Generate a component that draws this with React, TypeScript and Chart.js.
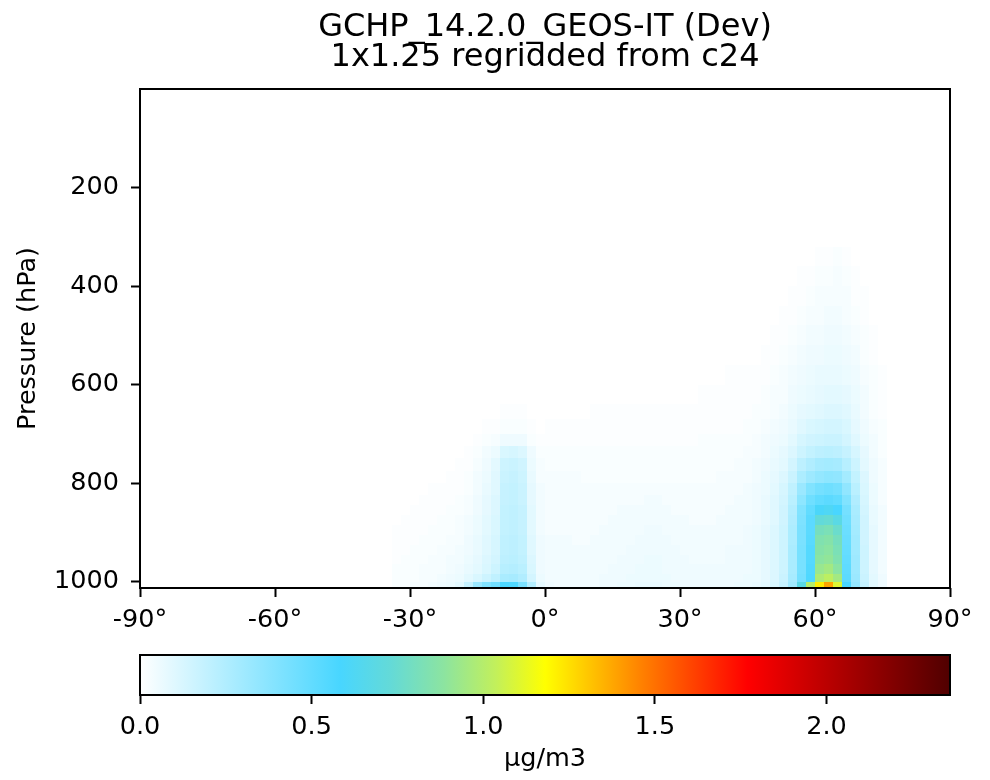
import React, { useEffect, useRef } from "react";
import { Chart, registerables } from "chart.js";

Chart.register(...registerables);

const FONT = "'DejaVu Sans', sans-serif";

const TITLE_LINES = ["GCHP_14.2.0_GEOS-IT (Dev)", "1x1.25 regridded from c24"];
const Y_LABEL = "Pressure (hPa)";
const CB_LABEL = "µg/m3";

const LAT_TICKS = [-90, -60, -30, 0, 30, 60, 90];
const P_TICKS = [200, 400, 600, 800, 1000];
const CB_TICKS = [0, 0.5, 1.0, 1.5, 2.0];
const VMAX = 2.36;
const P_MIN = 0;
const P_MAX = 1013;

// latitude cell edges (degrees), 2° cells
const LAT_EDGES = [
  -34, -32, -30, -28, -26, -24, -22, -20, -18, -16, -14, -12, -10, -8, -6, -4, -2,
  0, 2, 4, 6, 8, 10, 12, 14, 16, 18, 20, 22, 24, 26, 28, 30, 32, 34, 36, 38, 40, 42, 44,
  46, 48, 50, 52, 54, 56, 58, 60, 62, 64, 66, 68, 70, 72, 74, 76,
];

// pressure level edges (hPa), from surface upward
const P_EDGES = [
  1013, 1000, 985, 965, 945, 925, 905, 885, 865, 845, 825, 800, 775, 750, 725, 700,
  670, 640, 600, 560, 520, 480, 440, 400, 360, 320,
];

// concentration (hundredths of µg/m3); one row per pressure layer (surface first),
// one column per latitude cell
const CONC = [
  [2,2,3,3,4,5,6,9,18, 32,40,45,57,56,42,24,8, 5,4,4,4,4,4,5,5,6,6,7,7,7,6,6,5,5,5,5,5,5,6,6, 7,9,12,18,30,68,100,122,138,110,58,34,18,9,5],
  [2,2,2,3,3,4,5,6,9, 12,16,20,27,28,25,14,6, 4,4,4,4,4,4,5,5,5,6,6,6,6,6,5,5,5,5,5,5,5,5,6, 6,8,11,17,28,44,56,98,102,95,52,32,17,9,5],
  [2,2,2,3,3,3,4,5,7, 9,12,16,23,24,22,12,5, 4,4,4,4,4,4,4,5,5,5,6,6,6,5,5,5,5,5,5,5,5,5,5, 6,8,11,16,27,43,55,92,95,88,51,31,16,8,4],
  [1,2,2,2,3,3,4,4,6, 8,11,14,21,22,20,11,5, 4,4,4,4,4,4,4,4,5,5,5,6,6,5,5,5,4,4,4,4,5,5,5, 6,8,11,16,27,43,54,88,90,84,50,31,16,8,4],
  [1,1,2,2,2,3,3,4,5, 7,10,13,20,21,19,10,5, 4,4,4,4,4,4,4,4,4,5,5,5,5,5,5,4,4,4,4,4,5,5,5, 6,8,11,16,27,43,54,86,88,82,49,30,16,8,4],
  [1,1,1,2,2,2,3,3,5, 7,10,13,20,21,19,10,5, 4,4,4,3,3,4,4,4,4,4,5,5,5,5,4,4,4,4,4,4,4,4,5, 6,8,11,16,26,42,53,84,86,80,48,30,15,8,4],
  [1,1,1,1,2,2,2,3,4, 6,9,12,19,20,18,9,4, 3,3,3,3,3,3,4,4,4,4,4,5,5,4,4,4,4,4,4,4,4,4,5, 6,8,11,16,26,42,52,80,82,76,47,29,15,8,4],
  [0,1,1,1,1,2,2,3,4, 6,9,12,19,20,18,9,4, 3,3,3,3,3,3,3,4,4,4,4,4,4,4,4,4,3,3,3,4,4,4,4, 5,7,10,15,25,41,52,72,74,68,46,28,15,7,4],
  [0,0,1,1,1,1,2,2,3, 5,8,11,19,20,18,9,4, 3,3,3,3,3,3,3,3,4,4,4,4,4,4,3,3,3,3,3,3,4,4,4, 5,7,10,15,24,40,50,60,62,58,44,27,14,7,4],
  [0,0,0,1,1,1,1,2,3, 5,8,11,18,19,17,8,4, 3,3,3,3,3,3,3,3,3,3,3,4,4,3,3,3,3,3,3,3,3,4,4, 5,7,10,14,22,36,46,50,52,50,40,25,13,6,3],
  [0,0,0,0,1,1,1,1,2, 4,7,10,18,19,17,8,4, 3,3,3,3,3,3,3,3,3,3,3,3,3,3,3,3,3,3,3,3,3,3,4, 5,6,9,13,20,32,40,44,46,44,35,22,12,6,3],
  [0,0,0,0,0,0,1,1,2, 4,6,10,17,18,16,7,3, 3,3,3,3,2,2,2,2,2,2,2,2,2,2,2,2,2,2,2,3,3,3,3, 4,6,8,11,17,26,31,34,36,35,29,19,11,5,3],
  [0,0,0,0,0,0,0,1,1, 3,5,9,16,17,15,6,3, 2,2,2,2,2,2,2,2,2,2,2,2,2,2,2,2,2,2,2,2,2,3,3, 4,5,7,9,14,21,25,28,29,28,23,16,9,5,3],
  [0,0,0,0,0,0,0,0,1, 2,4,6,12,13,11,5,2, 2,2,2,2,2,2,2,2,2,2,2,2,2,2,2,2,2,2,2,2,2,2,3, 3,4,6,8,11,16,19,21,22,21,18,13,8,4,2],
  [0,0,0,0,0,0,0,0,0, 1,2,3,5,5,5,2,1, 1,1,1,1,1,1,1,1,1,1,1,1,1,1,1,1,1,2,2,2,2,2,2, 3,4,5,6,9,13,15,16,17,17,14,10,6,4,2],
  [0,0,0,0,0,0,0,0,0, 0,1,1,2,2,2,1,0, 1,1,1,1,1,1,1,1,1,1,1,1,1,1,1,1,1,1,1,1,1,1,2, 2,3,4,5,7,10,12,13,14,14,12,8,5,3,2],
  [0,0,0,0,0,0,0,0,0, 0,0,0,1,1,1,0,0, 0,0,0,0,0,1,1,1,1,1,1,1,1,1,1,1,1,1,1,1,1,1,1, 2,2,3,4,6,8,9,10,11,11,10,7,4,2,1],
  [0,0,0,0,0,0,0,0,0, 0,0,0,0,0,0,0,0, 0,0,0,0,0,0,0,0,0,0,0,0,0,0,0,0,0,1,1,1,1,1,1, 1,2,3,3,5,6,7,8,9,9,8,6,4,2,1],
  [0,0,0,0,0,0,0,0,0, 0,0,0,0,0,0,0,0, 0,0,0,0,0,0,0,0,0,0,0,0,0,0,0,0,0,0,0,0,1,1,1, 1,1,2,3,4,5,6,7,7,7,6,5,3,2,1],
  [0,0,0,0,0,0,0,0,0, 0,0,0,0,0,0,0,0, 0,0,0,0,0,0,0,0,0,0,0,0,0,0,0,0,0,0,0,0,0,0,0, 0,1,1,2,3,4,5,5,6,6,5,4,2,1,0],
  [0,0,0,0,0,0,0,0,0, 0,0,0,0,0,0,0,0, 0,0,0,0,0,0,0,0,0,0,0,0,0,0,0,0,0,0,0,0,0,0,0, 0,0,1,1,2,3,4,4,5,5,4,3,2,1,0],
  [0,0,0,0,0,0,0,0,0, 0,0,0,0,0,0,0,0, 0,0,0,0,0,0,0,0,0,0,0,0,0,0,0,0,0,0,0,0,0,0,0, 0,0,0,1,1,2,3,3,4,4,3,2,1,0,0],
  [0,0,0,0,0,0,0,0,0, 0,0,0,0,0,0,0,0, 0,0,0,0,0,0,0,0,0,0,0,0,0,0,0,0,0,0,0,0,0,0,0, 0,0,0,0,1,1,2,3,3,3,3,1,1,0,0],
  [0,0,0,0,0,0,0,0,0, 0,0,0,0,0,0,0,0, 0,0,0,0,0,0,0,0,0,0,0,0,0,0,0,0,0,0,0,0,0,0,0, 0,0,0,0,0,1,1,2,2,3,2,1,0,0,0],
  [0,0,0,0,0,0,0,0,0, 0,0,0,0,0,0,0,0, 0,0,0,0,0,0,0,0,0,0,0,0,0,0,0,0,0,0,0,0,0,0,0, 0,0,0,0,0,0,0,1,1,2,1,0,0,0,0],
];

// colormap (white -> sky blue -> green -> yellow -> red -> dark red)
const CMAP_POS = [0, 0.247, 0.31, 0.375, 0.44, 0.5, 0.62, 0.75, 1];
const CMAP_RGB = [
  [255, 255, 255],
  [72, 214, 255],
  [100, 218, 215],
  [140, 228, 160],
  [195, 240, 90],
  [255, 255, 0],
  [255, 128, 0],
  [255, 0, 0],
  [80, 0, 0],
];

function rgbStr(c: number[]): string {
  return `rgb(${c[0]},${c[1]},${c[2]})`;
}

function cmap(t: number): string {
  const tt = Math.max(0, Math.min(1, t));
  for (let i = 1; i < CMAP_POS.length; i++) {
    if (tt <= CMAP_POS[i]) {
      const f = (tt - CMAP_POS[i - 1]) / (CMAP_POS[i] - CMAP_POS[i - 1]);
      const a = CMAP_RGB[i - 1];
      const b = CMAP_RGB[i];
      return rgbStr([
        Math.round(a[0] + (b[0] - a[0]) * f),
        Math.round(a[1] + (b[1] - a[1]) * f),
        Math.round(a[2] + (b[2] - a[2]) * f),
      ]);
    }
  }
  return rgbStr(CMAP_RGB[CMAP_RGB.length - 1]);
}

const heatmapPlugin = {
  id: "heatmap",
  beforeDatasetsDraw(chart: any) {
    const { ctx, chartArea: a, scales } = chart;
    const x = scales.x;
    const y = scales.y;
    ctx.save();
    ctx.beginPath();
    ctx.rect(a.left, a.top, a.right - a.left, a.bottom - a.top);
    ctx.clip();
    for (let r = 0; r < CONC.length; r++) {
      const yb = Math.round(y.getPixelForValue(P_EDGES[r]));
      const yt = Math.round(y.getPixelForValue(P_EDGES[r + 1]));
      const row = CONC[r];
      for (let c = 0; c < row.length; c++) {
        const v = row[c] / 100;
        if (v <= 0) continue;
        const xl = Math.round(x.getPixelForValue(LAT_EDGES[c]));
        const xr = Math.round(x.getPixelForValue(LAT_EDGES[c + 1]));
        ctx.fillStyle = cmap(v / VMAX);
        ctx.fillRect(xl, yt, xr - xl, yb - yt);
      }
    }
    ctx.restore();
  },
};

const framePlugin = {
  id: "frame",
  afterDraw(chart: any) {
    const { ctx, chartArea: a } = chart;
    ctx.save();
    ctx.strokeStyle = "#000";
    ctx.lineWidth = 2;
    ctx.strokeRect(a.left, a.top, a.right - a.left, a.bottom - a.top);
    ctx.restore();
  },
};

const titlePlugin = {
  id: "twoLineTitle",
  afterDraw(chart: any) {
    const { ctx, chartArea: a } = chart;
    const cx = (a.left + a.right) / 2;
    ctx.save();
    ctx.fillStyle = "#000";
    ctx.font = `32px ${FONT}`;
    ctx.textAlign = "center";
    ctx.textBaseline = "alphabetic";
    ctx.fillText(TITLE_LINES[0], cx, 36);
    ctx.fillText(TITLE_LINES[1], cx, 66);
    ctx.restore();
  },
};

const colorbarPlugin = {
  id: "colorbar",
  beforeDatasetsDraw(chart: any) {
    const { ctx, chartArea: a, scales } = chart;
    const x = scales.x;
    const x0 = x.getPixelForValue(0);
    const x1 = x.getPixelForValue(VMAX);
    const grad = ctx.createLinearGradient(x0, 0, x1, 0);
    for (let i = 0; i < CMAP_POS.length; i++) {
      grad.addColorStop(CMAP_POS[i], rgbStr(CMAP_RGB[i]));
    }
    ctx.save();
    ctx.fillStyle = grad;
    ctx.fillRect(x0, a.top, x1 - x0, a.bottom - a.top);
    ctx.restore();
  },
};

const tickFont = { family: FONT, size: 25.5 };

export default function App() {
  const mainRef = useRef<HTMLCanvasElement | null>(null);
  const cbRef = useRef<HTMLCanvasElement | null>(null);

  useEffect(() => {
    if (!mainRef.current || !cbRef.current) return;

    const tickGrid = {
      drawOnChartArea: false,
      drawTicks: true,
      tickLength: 9,
      tickWidth: 2,
      tickColor: "#000",
    };

    const main = new Chart(mainRef.current, {
      type: "scatter",
      data: { datasets: [{ data: [] }] },
      options: {
        animation: false,
        responsive: false,
        devicePixelRatio: 1,
        layout: { padding: { left: 0, right: 40, top: 89, bottom: 0 } },
        plugins: {
          legend: { display: false },
          tooltip: { enabled: false },
          title: { display: false },
        },
        scales: {
          x: {
            type: "linear",
            position: "bottom",
            min: -90,
            max: 90,
            afterBuildTicks: (s: any) => {
              s.ticks = LAT_TICKS.map((v) => ({ value: v }));
            },
            afterFit: (s: any) => {
              s.height = 52;
              s.paddingLeft = 0;
              s.paddingRight = 0;
            },
            ticks: {
              callback: (v: any) => `${v}°`,
              font: tickFont,
              color: "#000",
              padding: 8,
              maxRotation: 0,
              autoSkip: false,
            },
            grid: tickGrid,
            border: { display: false },
          },
          y: {
            type: "linear",
            position: "left",
            min: P_MIN,
            max: P_MAX,
            reverse: true,
            afterBuildTicks: (s: any) => {
              s.ticks = P_TICKS.map((v) => ({ value: v }));
            },
            afterFit: (s: any) => {
              s.width = 140;
              s.paddingTop = 0;
              s.paddingBottom = 0;
            },
            ticks: {
              callback: (v: any) => `${v}`,
              font: tickFont,
              color: "#000",
              padding: 12,
              autoSkip: false,
            },
            grid: tickGrid,
            border: { display: false },
            title: {
              display: true,
              text: Y_LABEL,
              font: tickFont,
              color: "#000",
              padding: { top: 13, bottom: 0 },
            },
          },
        },
      },
      plugins: [heatmapPlugin, framePlugin, titlePlugin],
    } as any);

    const cb = new Chart(cbRef.current, {
      type: "scatter",
      data: { datasets: [{ data: [] }] },
      options: {
        animation: false,
        responsive: false,
        devicePixelRatio: 1,
        layout: { padding: { left: 140, right: 40, top: 15, bottom: 0 } },
        plugins: {
          legend: { display: false },
          tooltip: { enabled: false },
          title: { display: false },
        },
        scales: {
          x: {
            type: "linear",
            position: "bottom",
            min: 0,
            max: VMAX,
            afterBuildTicks: (s: any) => {
              s.ticks = CB_TICKS.map((v) => ({ value: v }));
            },
            afterFit: (s: any) => {
              s.height = 85;
              s.paddingLeft = 0;
              s.paddingRight = 0;
            },
            ticks: {
              callback: (v: any) => Number(v).toFixed(1),
              font: tickFont,
              color: "#000",
              padding: 8,
              maxRotation: 0,
              autoSkip: false,
            },
            grid: tickGrid,
            border: { display: false },
            title: {
              display: true,
              text: CB_LABEL,
              font: tickFont,
              color: "#000",
              padding: { top: 0, bottom: 5 },
            },
          },
          y: { display: false, min: 0, max: 1 },
        },
      },
      plugins: [colorbarPlugin, framePlugin],
    } as any);

    return () => {
      main.destroy();
      cb.destroy();
    };
  }, []);

  return (
    <div
      style={{
        position: "fixed",
        left: 0,
        top: 0,
        width: 990,
        height: 780,
        background: "#fff",
      }}
    >
      <canvas
        ref={mainRef}
        width={990}
        height={640}
        style={{ position: "absolute", left: 0, top: 0, width: 990, height: 640 }}
      />
      <canvas
        ref={cbRef}
        width={990}
        height={140}
        style={{ position: "absolute", left: 0, top: 640, width: 990, height: 140 }}
      />
    </div>
  );
}
